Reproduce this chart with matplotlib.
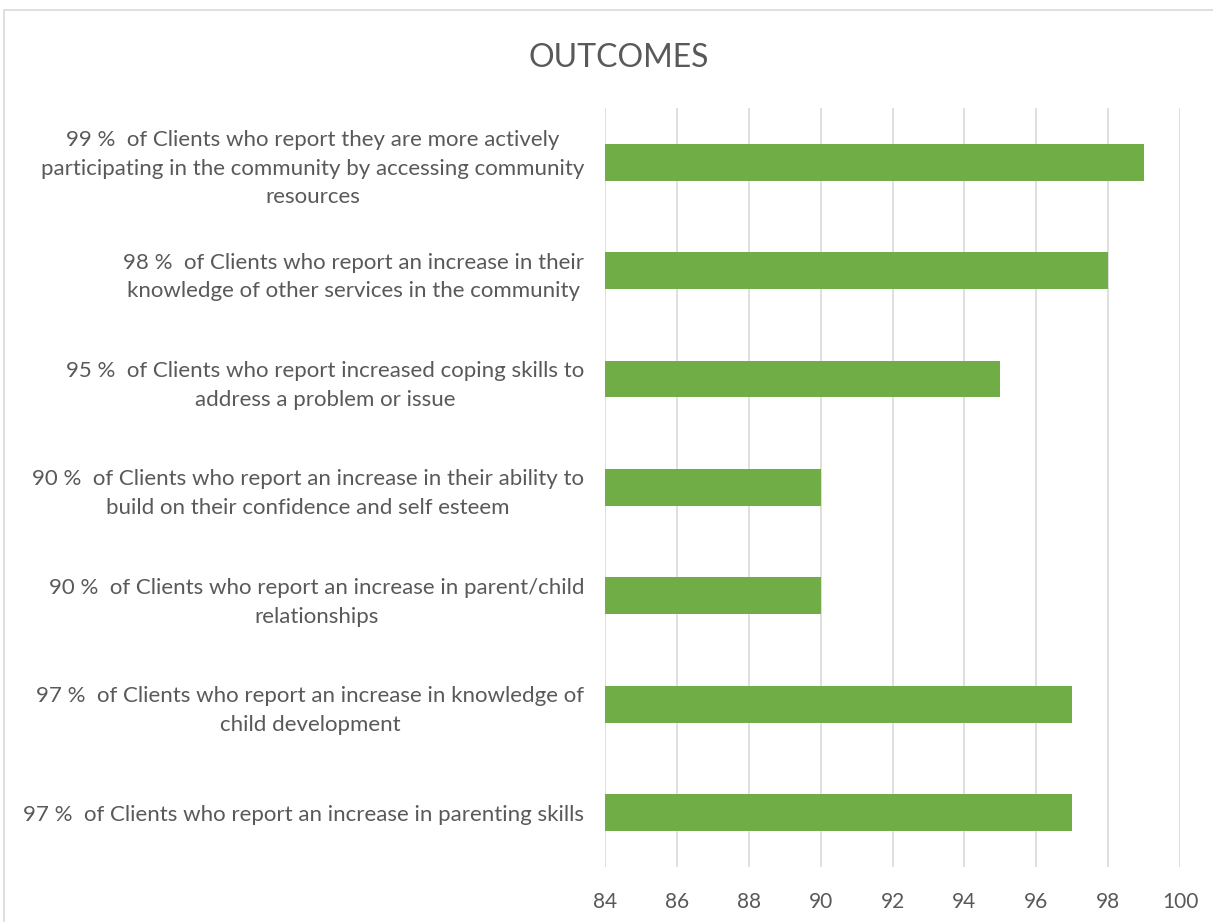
import matplotlib.pyplot as plt
from matplotlib.patches import Rectangle

# Outcome statements (top to bottom) and their percentages
labels = [
    "99 %  of Clients who report they are more actively\nparticipating in the community by accessing community\nresources",
    "98 %  of Clients who report an increase in their\nknowledge of other services in the community",
    "95 %  of Clients who report increased coping skills to\naddress a problem or issue",
    "90 %  of Clients who report an increase in their ability to\nbuild on their confidence and self esteem",
    "90 %  of Clients who report an increase in parent/child\nrelationships",
    "97 %  of Clients who report an increase in knowledge of\nchild development",
    "97 %  of Clients who report an increase in parenting skills",
]
values = [99, 98, 95, 90, 90, 97, 97]
xticks = [84, 86, 88, 90, 92, 94, 96, 98, 100]

text_color = "#595959"
bar_color = "#70AD47"
grid_color = "#D9D9D9"

plt.rcParams["font.family"] = ["Lato", "DejaVu Sans"]

fig = plt.figure(figsize=(12.13, 9.22), dpi=100)
ax = fig.add_axes([0.4988, 0.0597, 0.4740, 0.8232])

# chart frame
fig.patches.append(Rectangle((0.0035, -0.01), 1.0, 0.999, transform=fig.transFigure,
                             fill=False, edgecolor="#D9D9D9", linewidth=1.2))

y = range(len(values))
ax.barh(y, [v - xticks[0] for v in values], left=xticks[0], height=0.34,
        color=bar_color, zorder=3)

ax.set_xlim(xticks[0], xticks[-1])
ax.set_ylim(len(values) - 0.5, -0.5)
ax.set_xticks(xticks)
ax.set_xticklabels([str(t) for t in xticks], fontsize=15, color=text_color)
ax.set_yticks(list(y))
ax.set_yticklabels(labels, fontsize=16, color=text_color)
for t in ax.get_yticklabels():
    t.set_multialignment("center")
    t.set_linespacing(1.55)

ax.tick_params(axis="both", length=0)
ax.tick_params(axis="y", pad=15)
ax.tick_params(axis="x", pad=18)
ax.grid(True, axis="x", color=grid_color, linewidth=1.2, zorder=0)
ax.set_axisbelow(True)
for s in ax.spines.values():
    s.set_visible(False)

fig.text(0.51, 0.937, "OUTCOMES", ha="center", va="center", fontsize=23,
         color=text_color)

fig.savefig("out.png", dpi=100)
